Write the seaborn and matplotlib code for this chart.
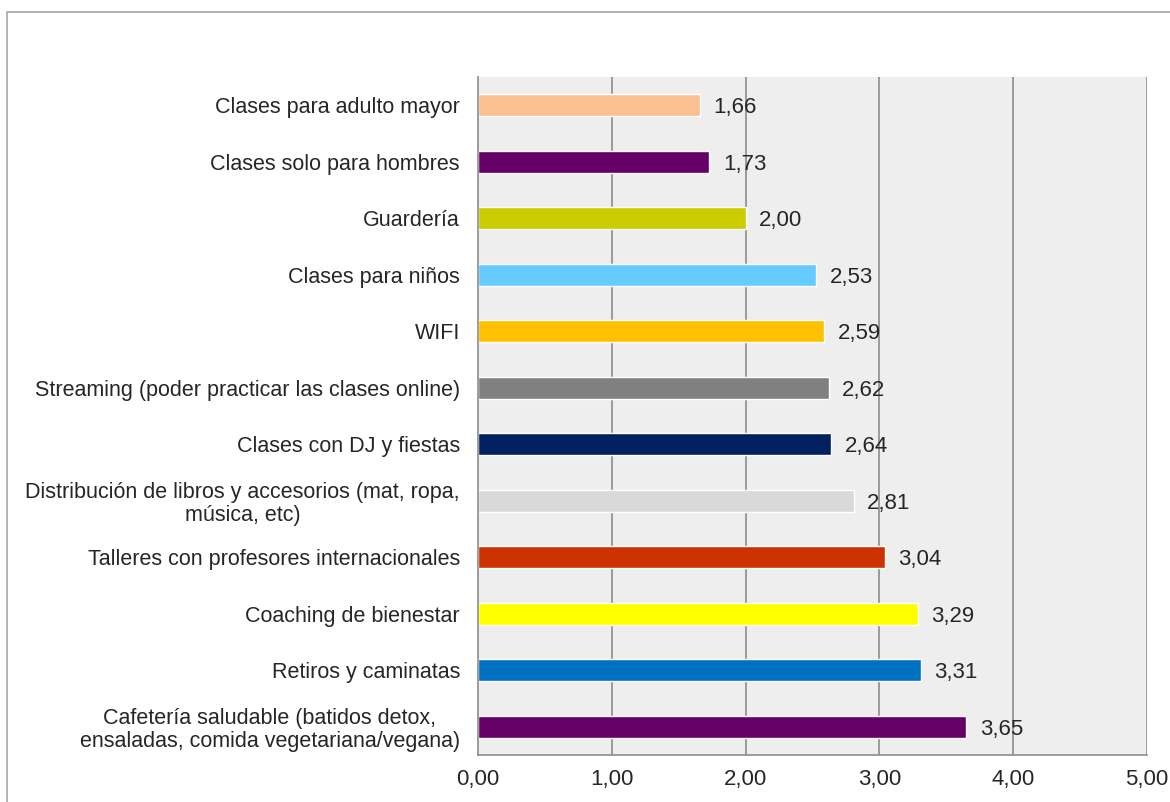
import matplotlib
matplotlib.use("Agg")
import matplotlib.pyplot as plt
import seaborn as sns
import pandas as pd
from matplotlib.patches import Rectangle

categories = [
    "Clases para adulto mayor",
    "Clases solo para hombres",
    "Guardería",
    "Clases para niños",
    "WIFI",
    "Streaming (poder practicar las clases online)",
    "Clases con DJ y fiestas",
    "Distribución de libros y accesorios (mat, ropa,\nmúsica, etc)",
    "Talleres con profesores internacionales",
    "Coaching de bienestar",
    "Retiros y caminatas",
    "Cafetería saludable (batidos detox,\nensaladas, comida vegetariana/vegana)",
]
values = [1.66, 1.73, 2.00, 2.53, 2.59, 2.62, 2.64, 2.81, 3.04, 3.29, 3.31, 3.65]
colors = ["#FAC090", "#660066", "#CCCC00", "#66CCFF", "#FFC000", "#808080",
          "#002060", "#D9D9D9", "#CC3300", "#FFFF00", "#0070C0", "#660066"]
x_ticks = [0, 1, 2, 3, 4, 5]
x_tick_labels = ["0,00", "1,00", "2,00", "3,00", "4,00", "5,00"]

df = pd.DataFrame({"categoria": categories, "valor": values})

sns.set_style("white")
plt.rcParams["font.family"] = ["Liberation Sans", "DejaVu Sans"]

fig = plt.figure(figsize=(11.7, 8.02), dpi=100)
ax = fig.add_axes([0.4085, 0.0586, 0.5718, 0.8454])
ax.set_facecolor("#EEEEEE")

sns.barplot(data=df, x="valor", y="categoria", hue="categoria",
            palette=colors, order=categories, hue_order=categories,
            legend=False, width=0.39, orient="h", ax=ax, saturation=1)

ax.set_xlim(0, 5)
ax.set_ylim(len(categories) - 0.5, -0.5)
ax.set_xticks(x_ticks)
ax.set_xticklabels(x_tick_labels, fontsize=16, color="#262626")
ax.set_xlabel("")
ax.set_ylabel("")
for lbl in ax.get_yticklabels():
    lbl.set_multialignment("center")
    lbl.set_fontsize(15.5)
    lbl.set_color("#262626")
    lbl.set_linespacing(1.1)
ax.tick_params(axis="y", length=0, pad=13)
ax.tick_params(axis="x", length=5, width=1, color="#8C8C8C", pad=5, direction="out")
ax.set_axisbelow(True)
for xv in x_ticks[1:]:
    ax.axvline(xv, color="#8C8C8C", lw=1.2, zorder=0.5)

for side in ["top", "right"]:
    ax.spines[side].set_visible(False)
for side in ["left", "bottom"]:
    ax.spines[side].set_color("#8C8C8C")
    ax.spines[side].set_linewidth(1.2)

for i, v in enumerate(values):
    ax.text(v + 0.1, i, f"{v:.2f}".replace(".", ","), va="center_baseline",
            ha="left", fontsize=16, color="#262626")

# chart frame
fig.patches.append(Rectangle((7 / 1170, -0.1), 1.2, 1 - 12 / 802 + 0.1,
                             transform=fig.transFigure, fill=False,
                             edgecolor="#A6A6A6", lw=1.2))

fig.savefig("out.png", dpi=100)
